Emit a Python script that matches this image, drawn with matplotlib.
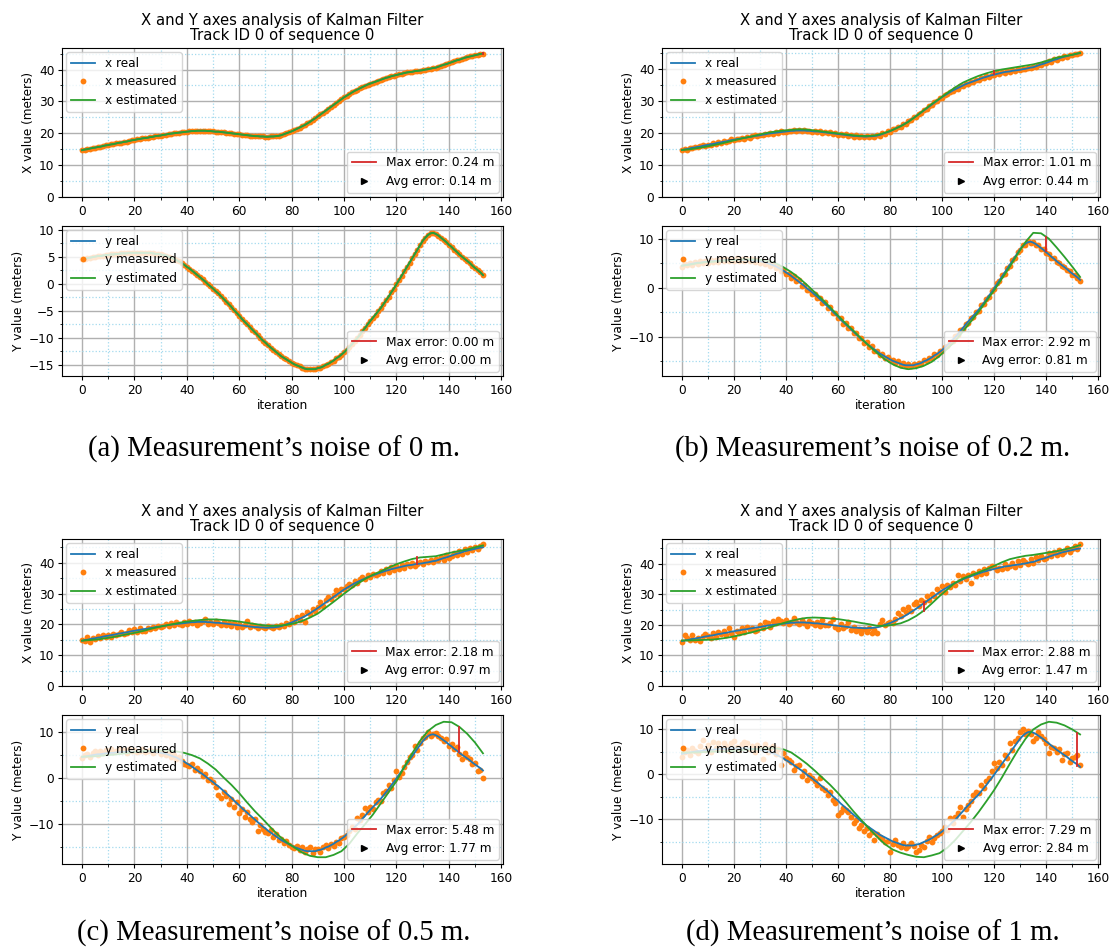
import numpy as np
import matplotlib
matplotlib.use('Agg')
import matplotlib.pyplot as plt
from matplotlib.lines import Line2D
from matplotlib.ticker import AutoMinorLocator

# ---- data ----
iterations = np.arange(154)
est_iterations = np.arange(0, 154, 3)

real_x = [14.7, 14.9, 15.0, 15.2, 15.4, 15.5, 15.7, 15.8, 16.0, 16.2,
          16.3, 16.5, 16.6, 16.8, 17.0, 17.1, 17.3, 17.4, 17.6, 17.8,
          17.9, 18.1, 18.2, 18.4, 18.5, 18.6, 18.8, 18.9, 19.1, 19.2,
          19.3, 19.5, 19.6, 19.8, 19.9, 20.0, 20.1, 20.2, 20.3, 20.4,
          20.5, 20.6, 20.7, 20.7, 20.8, 20.8, 20.8, 20.8, 20.7, 20.7,
          20.6, 20.5, 20.5, 20.4, 20.3, 20.2, 20.1, 20.0, 19.9, 19.8,
          19.7, 19.6, 19.5, 19.4, 19.3, 19.2, 19.1, 19.1, 19.0, 19.0,
          18.9, 18.9, 19.0, 19.0, 19.1, 19.2, 19.4, 19.7, 20.0, 20.3,
          20.6, 21.0, 21.4, 21.8, 22.2, 22.6, 23.1, 23.6, 24.2, 24.7,
          25.3, 25.9, 26.5, 27.1, 27.7, 28.3, 28.9, 29.5, 30.1, 30.7,
          31.3, 31.8, 32.3, 32.8, 33.3, 33.7, 34.1, 34.5, 34.9, 35.3,
          35.6, 35.9, 36.2, 36.5, 36.8, 37.1, 37.4, 37.6, 37.9, 38.1,
          38.3, 38.5, 38.7, 38.9, 39.1, 39.2, 39.3, 39.5, 39.6, 39.7,
          39.8, 40.0, 40.1, 40.3, 40.5, 40.6, 40.9, 41.2, 41.5, 41.7,
          42.0, 42.3, 42.6, 42.9, 43.1, 43.4, 43.7, 43.9, 44.1, 44.3,
          44.5, 44.7, 44.9, 45.0]
real_y = [4.5, 4.6, 4.7, 4.8, 4.9, 5.0, 5.1, 5.1, 5.2, 5.3,
          5.3, 5.4, 5.4, 5.5, 5.5, 5.6, 5.6, 5.6, 5.7, 5.7,
          5.7, 5.7, 5.7, 5.7, 5.7, 5.7, 5.7, 5.6, 5.5, 5.5,
          5.4, 5.3, 5.2, 5.0, 4.8, 4.6, 4.4, 4.1, 3.8, 3.5,
          3.1, 2.8, 2.4, 2.0, 1.6, 1.2, 0.8, 0.4, -0.1, -0.5,
          -0.9, -1.4, -1.8, -2.3, -2.8, -3.3, -3.8, -4.3, -4.9, -5.4,
          -5.9, -6.5, -7.0, -7.5, -8.0, -8.5, -9.0, -9.5, -10.0, -10.5,
          -10.9, -11.4, -11.8, -12.2, -12.6, -13.0, -13.4, -13.7, -14.0, -14.3,
          -14.6, -14.9, -15.1, -15.3, -15.5, -15.7, -15.8, -15.8, -15.8, -15.8,
          -15.6, -15.5, -15.3, -15.0, -14.8, -14.5, -14.2, -13.8, -13.5, -13.1,
          -12.7, -12.2, -11.7, -11.2, -10.6, -10.1, -9.5, -8.8, -8.2, -7.5,
          -6.9, -6.3, -5.7, -5.1, -4.5, -3.8, -3.1, -2.4, -1.6, -0.9,
          -0.1, 0.7, 1.5, 2.3, 3.1, 3.9, 4.7, 5.5, 6.3, 7.1,
          7.9, 8.5, 9.0, 9.3, 9.4, 9.2, 8.9, 8.5, 8.1, 7.7,
          7.2, 6.8, 6.3, 5.9, 5.4, 5.0, 4.6, 4.2, 3.8, 3.3,
          2.9, 2.5, 2.1, 1.6]

# noise 0 m: measurements coincide with the real track
meas_a_x = real_x
meas_a_y = real_y

meas_b_x = [14.6, 15.1, 14.8, 15.4, 15.2, 15.8, 15.5, 16.0, 16.3, 15.9,
            16.4, 16.3, 16.9, 16.6, 17.1, 16.9, 17.5, 17.2, 17.5, 18.0,
            17.7, 18.2, 18.0, 18.6, 18.3, 18.8, 18.6, 19.0, 19.3, 19.0,
            19.5, 19.3, 19.8, 19.6, 20.1, 19.8, 20.3, 20.0, 20.5, 20.2,
            20.4, 20.8, 20.5, 20.9, 20.6, 21.0, 20.6, 20.9, 20.5, 20.8,
            20.4, 20.7, 20.3, 20.6, 20.1, 20.4, 19.9, 20.2, 19.7, 20.0,
            19.5, 19.8, 19.3, 19.6, 19.1, 19.4, 18.9, 19.3, 18.8, 19.2,
            18.7, 19.1, 18.8, 19.2, 18.9, 19.4, 19.2, 19.9, 19.8, 20.5,
            20.4, 21.2, 21.2, 22.0, 22.0, 22.8, 22.9, 23.8, 24.0, 24.9,
            25.1, 26.1, 26.3, 27.3, 27.5, 28.5, 28.7, 29.7, 29.9, 30.9,
            31.1, 32.0, 32.1, 33.0, 33.1, 33.9, 33.9, 34.7, 34.7, 35.5,
            35.4, 36.1, 36.0, 36.7, 36.6, 37.3, 37.2, 37.8, 37.7, 38.3,
            38.1, 38.7, 38.5, 39.1, 38.9, 39.4, 39.1, 39.7, 39.4, 39.9,
            39.6, 40.2, 39.9, 40.5, 40.3, 40.8, 40.7, 41.4, 41.3, 41.9,
            41.8, 42.5, 42.4, 43.1, 42.9, 43.6, 43.5, 44.1, 43.9, 44.5,
            44.3, 44.9, 44.7, 45.1]
meas_b_y = [4.3, 4.9, 4.6, 5.1, 4.7, 5.2, 4.9, 5.4, 5.0, 5.5,
            5.1, 5.6, 5.2, 5.7, 5.3, 5.8, 5.4, 5.9, 5.5, 5.9,
            5.5, 6.0, 5.5, 5.9, 5.4, 5.9, 5.4, 5.8, 5.3, 5.7,
            5.1, 5.5, 4.9, 5.2, 4.5, 4.8, 4.1, 4.3, 3.5, 3.6,
            2.8, 2.9, 2.0, 2.3, 1.3, 1.5, 0.4, 0.6, -0.4, -0.4,
            -1.2, -1.2, -2.1, -2.1, -3.1, -3.0, -4.1, -4.0, -5.2, -5.1,
            -6.2, -6.2, -7.3, -7.2, -8.3, -8.2, -9.3, -9.2, -10.3, -10.2,
            -11.2, -11.1, -12.1, -11.9, -12.9, -12.8, -13.7, -13.5, -14.3, -14.1,
            -14.8, -14.7, -15.3, -15.0, -15.7, -15.3, -16.0, -15.6, -15.9, -15.5,
            -15.8, -15.3, -15.5, -14.8, -15.0, -14.3, -14.4, -13.6, -13.7, -12.9,
            -12.9, -12.0, -11.9, -11.0, -10.8, -9.9, -9.7, -8.6, -8.4, -7.3,
            -7.1, -6.1, -5.9, -4.9, -4.7, -3.6, -3.4, -2.2, -1.8, -0.7,
            -0.3, 0.9, 1.3, 2.5, 2.9, 4.1, 4.5, 5.7, 6.1, 7.3,
            7.7, 8.7, 8.8, 9.5, 9.2, 9.4, 8.7, 8.7, 7.9, 7.8,
            7.0, 6.9, 6.1, 6.0, 5.2, 5.1, 4.4, 4.3, 3.6, 3.4,
            2.7, 2.6, 1.9, 1.3]

meas_c_x = [14.8, 14.5, 16.0, 14.4, 15.7, 15.3, 16.1, 15.6, 16.5, 15.9,
            16.7, 16.0, 17.0, 16.4, 16.8, 17.5, 16.9, 17.1, 18.2, 17.4,
            18.4, 17.6, 18.7, 18.0, 17.9, 18.9, 18.4, 19.3, 18.8, 19.6,
            19.0, 19.4, 20.2, 19.6, 20.5, 19.7, 20.6, 20.2, 19.8, 20.8,
            20.0, 21.0, 20.3, 20.9, 19.8, 20.4, 21.2, 21.6, 20.2, 20.9,
            20.1, 21.1, 20.4, 19.9, 20.7, 19.7, 20.3, 19.5, 20.5, 19.3,
            20.0, 19.2, 19.9, 21.0, 19.0, 19.7, 19.4, 18.8, 19.6, 19.1,
            18.7, 19.5, 19.2, 18.9, 19.4, 19.0, 19.8, 19.4, 20.3, 20.1,
            21.4, 20.6, 22.3, 21.5, 23.0, 20.9, 23.9, 23.3, 25.1, 24.2,
            25.6, 27.3, 26.1, 27.8, 28.8, 28.2, 29.6, 31.0, 29.9, 31.4,
            31.6, 32.4, 33.1, 32.7, 33.9, 33.4, 34.6, 35.4, 34.8, 36.0,
            35.4, 36.2, 35.9, 36.3, 37.3, 36.6, 37.9, 37.1, 38.5, 37.7,
            38.9, 38.0, 39.3, 38.4, 39.7, 38.9, 39.9, 39.0, 39.5, 40.3,
            39.5, 40.6, 40.2, 41.0, 40.1, 41.3, 40.9, 41.8, 41.0, 42.4,
            41.6, 42.1, 43.3, 42.4, 43.9, 42.9, 44.5, 43.6, 44.8, 44.0,
            45.2, 44.6, 45.5, 46.1]
meas_c_y = [4.3, 4.9, 5.1, 4.6, 5.4, 5.7, 5.0, 5.9, 5.4, 6.1,
            5.6, 6.2, 5.5, 5.9, 6.3, 5.7, 6.0, 5.4, 6.2, 5.8,
            6.1, 5.5, 5.9, 6.2, 5.6, 5.8, 6.0, 5.3, 5.7, 5.9,
            5.2, 5.6, 4.9, 5.5, 4.6, 5.0, 4.1, 4.5, 3.6, 3.0,
            2.8, 2.6, 2.9, 1.8, 2.1, 1.5, 0.4, 0.9, -0.5, -0.2,
            -0.8, -1.9, -3.6, -4.4, -3.1, -4.0, -5.6, -4.5, -6.2, -5.2,
            -7.6, -6.8, -8.4, -7.4, -8.9, -9.5, -8.8, -11.5, -10.2, -11.0,
            -11.6, -11.9, -11.3, -12.7, -12.2, -13.4, -13.1, -14.1, -13.6, -14.5,
            -14.9, -15.2, -14.7, -15.5, -15.0, -16.0, -15.4, -14.9, -16.1, -15.3,
            -15.3, -15.9, -14.9, -14.5, -15.1, -14.2, -14.6, -13.8, -14.0, -12.9,
            -12.7, -12.3, -11.5, -10.5, -11.0, -8.6, -9.1, -8.0, -6.5, -7.4,
            -6.2, -6.6, -5.3, -4.7, -4.9, -3.3, -2.8, -1.5, -2.1, -0.4,
            1.5, 0.2, 1.1, 2.4, 3.5, 4.4, 4.9, 6.9, 6.1, 7.6,
            8.7, 8.9, 9.8, 9.1, 9.5, 9.6, 9.1, 8.6, 8.0, 8.3,
            6.9, 7.3, 6.2, 6.7, 5.1, 4.0, 5.3, 4.4, 4.0, 2.9,
            3.2, 1.5, 1.8, 0.0]

meas_d_x = [14.4, 16.8, 15.7, 14.9, 16.7, 15.2, 15.8, 14.8, 16.4, 17.0,
            16.5, 15.6, 17.2, 16.1, 17.6, 16.9, 18.0, 16.7, 19.1, 17.4,
            16.0, 18.1, 17.5, 18.9, 17.6, 19.3, 18.3, 19.0, 17.9, 18.4,
            19.8, 19.0, 20.9, 20.5, 19.4, 21.2, 20.7, 22.0, 21.3, 20.5,
            21.5, 20.2, 20.8, 22.4, 21.0, 20.3, 21.7, 20.6, 19.5, 21.3,
            20.5, 20.0, 20.9, 19.6, 21.5, 20.1, 19.8, 20.6, 21.9, 19.4,
            18.6, 20.3, 19.0, 19.7, 20.8, 18.3, 19.2, 17.9, 18.8, 17.5,
            18.5, 17.6, 19.0, 17.4, 18.2, 17.3, 20.3, 21.5, 19.8, 20.6,
            21.1, 20.7, 21.8, 24.0, 22.9, 25.3, 24.1, 26.0, 24.7, 26.8,
            27.4, 26.2, 28.1, 27.6, 29.3, 28.2, 30.0, 29.6, 31.7, 30.9,
            32.6, 30.6, 33.0, 32.4, 33.6, 33.0, 36.2, 34.5, 36.0, 35.1,
            36.4, 33.8, 36.9, 35.9, 37.5, 36.6, 38.3, 37.0, 38.6, 39.4,
            38.9, 38.1, 38.7, 38.2, 40.0, 38.7, 39.3, 40.4, 39.1, 40.9,
            39.6, 41.2, 40.5, 40.0, 41.6, 40.4, 42.3, 41.1, 42.7, 41.6,
            41.9, 43.4, 42.5, 43.9, 42.8, 44.5, 43.3, 44.0, 45.2, 43.7,
            44.8, 45.9, 44.9, 46.5]
meas_d_y = [3.9, 4.8, 5.4, 4.3, 5.9, 5.1, 4.6, 6.2, 7.6, 5.3,
            6.5, 5.0, 7.2, 5.8, 6.9, 5.5, 7.0, 6.3, 5.2, 6.8,
            7.3, 6.0, 5.4, 6.6, 7.1, 6.9, 5.6, 6.2, 4.9, 6.4,
            5.8, 3.3, 6.7, 4.8, 5.9, 6.3, 4.4, 5.5, 2.1, 4.7,
            3.6, 3.2, 2.6, 1.0, 1.9, 2.1, -0.5, 0.7, -1.3, -0.2,
            -0.9, -1.6, -2.4, -0.9, -3.0, -3.5, -4.6, -4.0, -5.7, -6.3,
            -9.0, -8.3, -7.6, -7.9, -8.3, -9.6, -10.9, -10.1, -12.0, -11.2,
            -12.7, -11.9, -13.5, -12.8, -14.6, -13.2, -13.9, -14.4, -15.0, -14.7,
            -17.2, -15.4, -14.6, -15.7, -16.1, -15.2, -16.4, -15.9, -15.3, -16.0,
            -17.2, -16.8, -15.7, -16.1, -14.8, -13.9, -15.0, -14.2, -13.4, -13.0,
            -12.7, -11.8, -12.4, -9.8, -10.9, -9.4, -8.6, -7.2, -9.4, -7.8,
            -6.8, -5.9, -4.6, -3.9, -4.2, -2.4, -3.0, -1.6, -0.8, 0.6,
            2.4, 1.3, 2.8, 2.0, 4.3, 3.6, 6.9, 5.4, 7.3, 8.1,
            9.3, 9.9, 8.8, 9.6, 9.0, 7.3, 8.0, 9.3, 8.4, 7.7,
            6.9, 4.7, 6.1, 5.8, 4.9, 5.6, 3.2, 4.4, 4.7, 2.8,
            3.6, 3.9, 4.3, 2.1]

# Kalman estimates, every third iteration (noise 0 m: equal to the track)
est_b_x = [14.7, 14.9, 15.3, 15.7, 16.2, 16.7, 17.3, 17.9, 18.5, 19.0,
           19.6, 20.1, 20.5, 20.8, 21.0, 21.2, 21.1, 20.8, 20.5, 20.2,
           19.9, 19.6, 19.3, 19.1, 19.1, 19.4, 20.1, 21.0, 22.1, 23.5,
           25.3, 27.2, 29.1, 30.8, 32.6, 34.3, 35.8, 36.9, 37.9, 38.7,
           39.4, 39.9, 40.3, 40.7, 41.1, 41.5, 42.1, 42.8, 43.6, 44.1,
           44.5, 45.1]
est_b_y = [4.5, 4.7, 5.0, 5.2, 5.3, 5.5, 5.6, 5.7, 5.8, 5.8,
           5.7, 5.5, 5.0, 4.2, 3.2, 2.0, 0.6, -0.9, -2.4, -4.0,
           -5.7, -7.3, -8.8, -10.4, -11.9, -13.3, -14.6, -15.6, -16.3, -16.6,
           -16.4, -15.9, -15.1, -13.9, -12.4, -10.9, -8.9, -6.9, -4.9, -2.7,
           -0.5, 1.9, 4.3, 6.9, 9.3, 11.2, 11.1, 10.0, 8.2, 6.3,
           4.3, 2.2]
est_c_x = [14.7, 14.9, 15.1, 15.5, 15.9, 16.4, 16.9, 17.4, 18.0, 18.7,
           19.3, 19.8, 20.3, 20.8, 21.1, 21.4, 21.6, 21.6, 21.4, 21.2,
           20.9, 20.5, 20.1, 19.7, 19.5, 19.6, 19.8, 20.3, 21.1, 22.2,
           23.5, 25.4, 27.3, 29.3, 31.2, 33.1, 34.7, 36.1, 37.2, 38.4,
           39.5, 40.4, 41.2, 41.7, 41.9, 42.1, 42.7, 43.3, 43.8, 44.3,
           45.0, 45.6]
est_c_y = [4.6, 4.6, 4.7, 4.9, 5.0, 5.2, 5.4, 5.6, 5.8, 5.9,
           5.9, 5.9, 5.7, 5.4, 4.9, 4.2, 3.1, 1.8, 0.1, -1.5,
           -3.3, -5.3, -7.2, -8.9, -10.7, -12.4, -13.8, -15.0, -16.1, -16.8,
           -17.1, -17.1, -16.6, -15.8, -14.2, -12.0, -10.0, -7.9, -5.5, -3.1,
           -0.7, 2.4, 5.3, 8.0, 10.1, 11.4, 12.1, 12.0, 11.0, 9.5,
           7.6, 5.3]
est_d_x = [14.9, 14.9, 15.0, 15.1, 15.2, 15.5, 15.9, 16.4, 17.0, 17.6,
           18.3, 19.0, 19.8, 20.6, 21.3, 21.9, 22.3, 22.4, 22.3, 22.1,
           21.9, 21.5, 21.1, 20.6, 20.2, 19.7, 19.7, 20.0, 20.5, 21.5,
           22.9, 24.7, 27.0, 29.4, 31.6, 33.8, 35.2, 36.2, 37.2, 38.2,
           39.3, 40.5, 41.5, 42.1, 42.6, 42.9, 43.3, 43.7, 44.1, 44.7,
           45.3, 46.1]
est_d_y = [4.8, 4.8, 4.8, 4.9, 5.0, 5.0, 5.1, 5.2, 5.4, 5.5,
           5.6, 5.7, 5.7, 5.5, 4.8, 3.6, 2.3, 0.8, -0.8, -2.4,
           -4.2, -6.2, -8.3, -10.2, -12.1, -13.9, -15.5, -16.7, -17.4, -17.9,
           -18.3, -18.4, -18.0, -17.5, -16.3, -14.6, -12.6, -10.6, -8.4, -6.0,
           -3.5, -0.7, 2.3, 5.2, 7.8, 9.9, 11.0, 11.6, 11.4, 10.8,
           9.9, 8.8]

# max error segment per panel: (iteration, low, high)
max_seg_x = [(153, 45.0, 45.24), (120, 38.4, 39.4), (128, 39.5, 41.7), (93, 24.7, 27.6)]
max_seg_y = [None, (140, 7.5, 10.4), (144, 5.5, 11.0), (152, 1.8, 9.1)]

max_err_x = ['0.24', '1.01', '2.18', '2.88']
avg_err_x = ['0.14', '0.44', '0.97', '1.47']
max_err_y = ['0.00', '2.92', '5.48', '7.29']
avg_err_y = ['0.00', '0.81', '1.77', '2.84']

captions = ['(a) Measurement\u2019s noise of 0 m.',
            '(b) Measurement\u2019s noise of 0.2 m.',
            '(c) Measurement\u2019s noise of 0.5 m.',
            '(d) Measurement\u2019s noise of 1 m.']

# ---- figure ----
W, H = 1112, 951
plt.rcParams['font.family'] = 'DejaVu Sans'
plt.rcParams['font.size'] = 8.7
plt.rcParams['axes.linewidth'] = 0.8

fig = plt.figure(figsize=(W / 100, H / 100), dpi=100)


def px_rect(l, r, t, b):
    return [l / W, 1 - b / H, (r - l) / W, (b - t) / H]


def style_axis(ax):
    ax.xaxis.set_minor_locator(AutoMinorLocator(2))
    ax.yaxis.set_minor_locator(AutoMinorLocator(2))
    ax.grid(which='major', color='#b0b0b0', linewidth=1.0)
    ax.grid(which='minor', color='#a3daee', linestyle=':', linewidth=0.9)
    ax.set_axisbelow(True)
    ax.tick_params(which='major', length=3, width=0.8, labelsize=8.7, pad=2.5)
    ax.tick_params(which='minor', length=1.8, width=0.6)


def draw(ax, name, real, meas, est_it, est, seg, max_txt, avg_txt):
    hm, = ax.plot(iterations, meas, 'o', color='tab:orange', ms=4.2, mew=0,
                  label=name + ' measured')
    hr, = ax.plot(iterations, real, color='tab:blue', lw=1.3, label=name + ' real')
    he, = ax.plot(est_it, est, color='tab:green', lw=1.3, label=name + ' estimated')
    if seg is not None:
        ax.plot([seg[0], seg[0]], [seg[1], seg[2]], color='tab:red', lw=1.3)
    leg = ax.legend(handles=[hr, hm, he], loc='upper left', fontsize=8.7,
                    borderaxespad=0.35, handletextpad=0.8, labelspacing=0.45)
    ax.add_artist(leg)
    h1 = Line2D([], [], color='tab:red', lw=1.3)
    h2 = Line2D([], [], color='black', marker='>', linestyle='None', ms=4.5)
    ax.legend(handles=[h1, h2],
              labels=['Max error: %s m' % max_txt, 'Avg error: %s m' % avg_txt],
              loc='lower right', fontsize=8.7, borderaxespad=0.35,
              handletextpad=0.8, labelspacing=0.45)
    style_axis(ax)


panels = [
    (real_x, meas_a_x, iterations, real_x, real_y, meas_a_y, iterations, real_y),
    (real_x, meas_b_x, est_iterations, est_b_x, real_y, meas_b_y, est_iterations, est_b_y),
    (real_x, meas_c_x, est_iterations, est_c_x, real_y, meas_c_y, est_iterations, est_c_y),
    (real_x, meas_d_x, est_iterations, est_d_x, real_y, meas_d_y, est_iterations, est_d_y),
]

cols = [(62, 503), (662, 1100)]
rows = [((48, 197), (226, 376), 449), ((539, 686), (715, 864), 933)]
cap_x = [274, 873]

for k, p in enumerate(panels):
    (l, r) = cols[k % 2]
    (tx, ty), (bx, by), cy = rows[k // 2]
    ax_x = fig.add_axes(px_rect(l, r, tx, ty))
    ax_y = fig.add_axes(px_rect(l, r, bx, by))

    draw(ax_x, 'x', p[0], p[1], p[2], p[3], max_seg_x[k], max_err_x[k], avg_err_x[k])
    draw(ax_y, 'y', p[4], p[5], p[6], p[7], max_seg_y[k], max_err_y[k], avg_err_y[k])

    ax_x.set_ylim(bottom=0)
    ax_x.set_ylabel('X value (meters)', labelpad=3)
    ax_y.set_ylabel('Y value (meters)', labelpad=3)
    ax_y.set_xlabel('iteration', labelpad=1.5)
    ax_x.set_title('X and Y axes analysis of Kalman Filter\nTrack ID 0 of sequence 0',
                   fontsize=10.7, pad=6, linespacing=1.0)

    fig.text(cap_x[k % 2] / W, 1 - cy / H, captions[k], ha='center', va='center',
             fontsize=20.7, family='Liberation Serif')

fig.savefig('out.png', dpi=100)
